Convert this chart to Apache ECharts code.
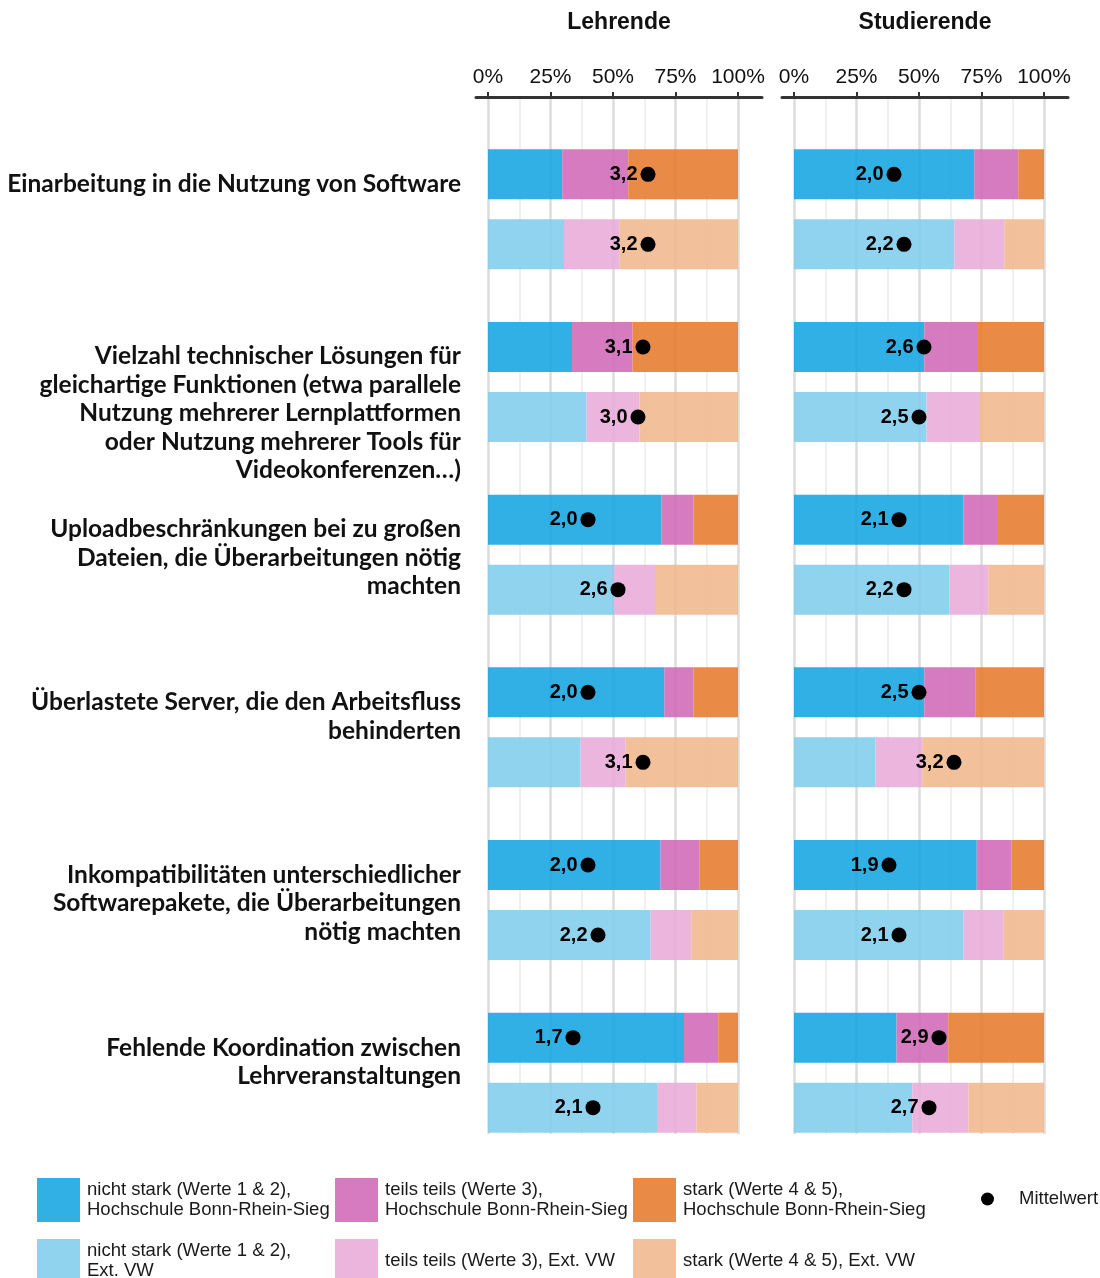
<!DOCTYPE html>
<html><head><meta charset="utf-8">
<script src="https://cdn.jsdelivr.net/npm/echarts@6/dist/echarts.min.js"></script>
<style>html,body{margin:0;padding:0;background:#fff}#c{width:1100px;height:1278px}</style>
</head><body><div id="c"></div>
<script>
const categories = [
  'Einarbeitung in die Nutzung von Software',
  'Vielzahl technischer Lösungen für\ngleichartige Funktionen (etwa parallele\nNutzung mehrerer Lernplattformen\noder Nutzung mehrerer Tools für\nVideokonferenzen…)',
  'Uploadbeschränkungen bei zu großen\nDateien, die Überarbeitungen nötig\nmachten',
  'Überlastete Server, die den Arbeitsfluss\nbehinderten',
  'Inkompatibilitäten unterschiedlicher\nSoftwarepakete, die Überarbeitungen\nnötig machten',
  'Fehlende Koordination zwischen\nLehrveranstaltungen'
];
const panelTitles = ['Lehrende', 'Studierende'];
const seriesNames = [
  'nicht stark (Werte 1 & 2),\nHochschule Bonn-Rhein-Sieg',
  'teils teils (Werte 3),\nHochschule Bonn-Rhein-Sieg',
  'stark (Werte 4 & 5),\nHochschule Bonn-Rhein-Sieg',
  'nicht stark (Werte 1 & 2),\nExt. VW',
  'teils teils (Werte 3), Ext. VW',
  'stark (Werte 4 & 5), Ext. VW'
];
const meanName = 'Mittelwert';

// Lehrende (percent)
const lehrendeHbrsNicht = [29.7, 33.6, 69.3, 70.5, 69.0, 78.4];
const lehrendeHbrsTeils = [26.4, 24.2, 12.9, 11.7, 15.6, 13.7];
const lehrendeHbrsStark = [43.9, 42.2, 17.8, 17.8, 15.4, 7.9];
const lehrendeExtNicht  = [30.4, 39.4, 50.5, 37.0, 65.0, 67.6];
const lehrendeExtTeils  = [22.3, 21.2, 16.3, 18.0, 16.3, 15.8];
const lehrendeExtStark  = [47.3, 39.4, 33.2, 45.0, 18.7, 16.6];
// Studierende (percent)
const studHbrsNicht = [72.1, 52.1, 67.8, 52.1, 73.1, 41.0];
const studHbrsTeils = [17.6, 21.1, 13.4, 20.4, 13.9, 20.7];
const studHbrsStark = [10.3, 26.8, 18.8, 27.5, 13.0, 38.3];
const studExtNicht  = [64.1, 53.0, 62.1, 32.5, 67.8, 47.3];
const studExtTeils  = [20.0, 21.4, 15.6, 18.8, 16.1, 22.5];
const studExtStark  = [15.9, 25.6, 22.3, 48.7, 16.1, 30.2];
// Mittelwerte (scale 0..5)
const lehrendeMeanHbrs = [3.2, 3.1, 2.0, 2.0, 2.0, 1.7];
const lehrendeMeanExt  = [3.2, 3.0, 2.6, 3.1, 2.2, 2.1];
const studMeanHbrs     = [2.0, 2.6, 2.1, 2.5, 1.9, 2.9];
const studMeanExt      = [2.2, 2.5, 2.2, 3.2, 2.1, 2.7];

const colors = ['#13a5e0', '#d069b6', '#e67a2c', '#80cded', '#e8abd8', '#f0b78c'];

const panelData = [
  { bars: [lehrendeHbrsNicht, lehrendeHbrsTeils, lehrendeHbrsStark, lehrendeExtNicht, lehrendeExtTeils, lehrendeExtStark],
    means: [lehrendeMeanHbrs, lehrendeMeanExt] },
  { bars: [studHbrsNicht, studHbrsTeils, studHbrsStark, studExtNicht, studExtTeils, studExtStark],
    means: [studMeanHbrs, studMeanExt] }
];
const panelLeft = [488, 794];
const W = 250;
const FONT = "'Liberation Sans', Arial, sans-serif";

const grid = [], xAxis = [], yAxis = [], series = [];
panelLeft.forEach((L, p) => {
  grid.push({ left: L, width: W, top: 97, height: 1037, outerBoundsMode: 'none' });        // frame
  grid.push({ left: L, width: W, top: 123, height: 1036, outerBoundsMode: 'none' });       // bars
  grid.push({ left: L - 12, width: 286, top: 97, height: 1037, outerBoundsMode: 'none' }); // axis line
  grid.push({ left: L, width: W, top: 88, height: 1036, outerBoundsMode: 'none' });        // mean HBRS
  grid.push({ left: L, width: W, top: 158, height: 1036, outerBoundsMode: 'none' });       // mean Ext
  const g = p * 5;
  xAxis.push({
    gridIndex: g, type: 'value', min: 0, max: 100, interval: 25, position: 'top',
    axisLine: { show: false },
    axisTick: { show: true, length: 5, lineStyle: { color: '#333', width: 2 } },
    axisLabel: { formatter: '{value}%', fontSize: 21, color: '#111', margin: 9, fontFamily: FONT },
    splitLine: { show: true, lineStyle: { color: '#dcdcdc', width: 2.5 } },
    minorTick: { show: false, splitNumber: 2 },
    minorSplitLine: { show: true, lineStyle: { color: '#ececec', width: 1.5 } }
  });
  xAxis.push({ gridIndex: g + 1, type: 'value', min: 0, max: 100, show: false });
  xAxis.push({
    gridIndex: g + 2, type: 'value', min: 0, max: 1, position: 'top',
    axisLine: { show: true, lineStyle: { color: '#333', width: 3 } },
    axisTick: { show: false }, axisLabel: { show: false }, splitLine: { show: false },
    name: panelTitles[p], nameLocation: 'middle', nameGap: 63,
    nameTextStyle: { fontSize: 23, fontWeight: 'bold', color: '#111', fontFamily: FONT }
  });
  xAxis.push({ gridIndex: g + 3, type: 'value', min: 0, max: 5, show: false });
  xAxis.push({ gridIndex: g + 4, type: 'value', min: 0, max: 5, show: false });

  yAxis.push({
    gridIndex: g, type: 'category', data: categories, inverse: true,
    axisLine: { show: false }, axisTick: { show: false }, splitLine: { show: false },
    axisLabel: {
      show: p === 0, interval: 0, margin: 27, align: 'right', verticalAlign: 'top',
      padding: [-14, 0, 0, 0], lineHeight: 28.5,
      fontSize: 24.5, fontWeight: 'bold', color: '#111', fontFamily: "Lato, 'Open Sans', sans-serif"
    }
  });
  for (let k = 1; k < 5; k++) {
    yAxis.push({ gridIndex: g + k, type: 'category', data: categories, inverse: true, show: false });
  }

  panelData[p].bars.forEach((vals, i) => {
    series.push({
      type: 'bar', name: seriesNames[i], xAxisIndex: g + 1, yAxisIndex: g + 1,
      stack: (i < 3 ? 'hbrs' : 'ext') + '_' + p, barWidth: 50, barGap: '40%',
      itemStyle: { color: colors[i], opacity: 0.88 },
      emphasis: { disabled: true }, silent: true,
      data: vals
    });
  });
  panelData[p].means.forEach((vals, j) => {
    series.push({
      type: 'scatter', name: meanName, xAxisIndex: g + 3 + j, yAxisIndex: g + 3 + j,
      symbolSize: 15, z: 5, silent: true,
      itemStyle: { color: '#000', opacity: 1 },
      label: {
        show: true, position: 'left', distance: 3, fontSize: 20, fontWeight: 'bold',
        color: '#000', fontFamily: FONT,
        formatter: (d) => d.value[0].toFixed(1).replace('.', ',')
      },
      data: vals.map((m, i) => [m, i])
    });
  });
});

const legendText = { fontSize: 18.5, lineHeight: 20, color: '#1a1a1a', fontFamily: FONT, padding: [0, 0, 0, 2] };
const legendBase = { orient: 'vertical', top: 1178, height: 140, padding: 0, itemWidth: 43, itemHeight: 44, itemGap: 17,
  icon: 'rect', selectedMode: false, textStyle: legendText };
const legend = [
  Object.assign({}, legendBase, { left: 37, data: [seriesNames[0], seriesNames[3]] }),
  Object.assign({}, legendBase, { left: 335, data: [seriesNames[1], seriesNames[4]] }),
  Object.assign({}, legendBase, { left: 633, data: [seriesNames[2], seriesNames[5]] }),
  { left: 981, top: 1189, padding: 0, itemWidth: 49, itemHeight: 13, icon: 'circle', selectedMode: false,
    textStyle: legendText, data: [meanName] }
];

const chart = echarts.init(document.getElementById('c'), null, { renderer: 'canvas' });
chart.setOption({ animation: false, backgroundColor: '#fff', grid, xAxis, yAxis, series, legend });
</script></body></html>
